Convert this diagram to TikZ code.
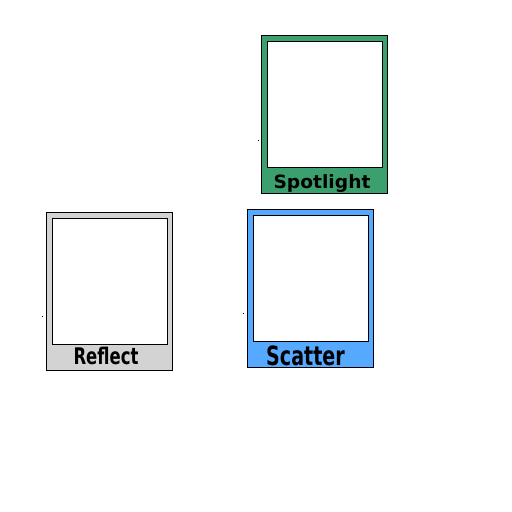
\documentclass[tikz,border=0pt]{standalone}
\usepackage{fontspec}
\newfontfamily\cardfont{DejaVu Sans}
\definecolor{spotgreen}{RGB}{60,160,110}
\definecolor{scatterblue}{RGB}{85,170,255}
\definecolor{reflectgray}{RGB}{211,211,211}
\tikzset{
  card/.style={draw=black, line width=1pt, anchor=north west, inner sep=0pt,
    minimum width=126pt, minimum height=158pt},
  screen/.style={draw=black, fill=white, line width=1pt, anchor=north west, inner sep=0pt,
    minimum width=115pt, minimum height=126pt},
  caption/.style={anchor=base, inner sep=0pt},
  dot/.style={fill=black, inner sep=0pt, minimum size=1pt}
}
\newcommand{\cardtext}[3]{{\cardfont\bfseries\fontsize{#1}{#1}\selectfont\scalebox{#2}[1]{#3}}}
\begin{document}
\begin{tikzpicture}[x=1pt, y=-1pt]
\useasboundingbox (0,0) rectangle (512,512);
% spotlight
\node [card, fill=spotgreen] (spotlight) at (261,35) {};
\node [screen] (spotlight screen) at (266.5,40.5) {};
\node [caption] (spotlight label) at (322,188) {\cardtext{18.3}{1.02}{Spotlight}};
\node [dot] (spotlight dot) at (258.5,140.5) {};
% reflect
\node [card, fill=reflectgray] (reflect) at (45.5,211.5) {};
\node [screen] (reflect screen) at (51.5,217.5) {};
\node [caption] (reflect label) at (106,364) {\cardtext{22.9}{0.72}{Reflect}};
\node [dot] (reflect dot) at (42.5,316.5) {};
% scatter
\node [card, fill=scatterblue] (scatter) at (246.5,208.5) {};
\node [screen] (scatter screen) at (252.5,214.5) {};
\node [caption] (scatter label) at (305.5,365) {\cardtext{26.5}{0.72}{Scatter}};
\node [dot] (scatter dot) at (243.5,313.5) {};
\end{tikzpicture}
\end{document}
